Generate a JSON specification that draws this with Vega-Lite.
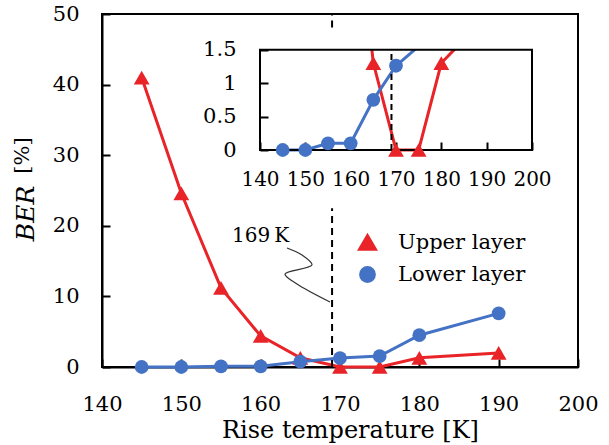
{
  "$schema": "https://vega.github.io/schema/vega-lite/v6.json",
  "width": 476,
  "height": 353,
  "autosize": {"type": "none"},
  "padding": {"left": 102, "top": 14, "right": 31, "bottom": 78},
  "background": "white",
  "config": {
    "view": {"stroke": "black", "strokeWidth": 2},
    "font": "DejaVu Serif",
    "axis": {
      "grid": false,
      "domainColor": "black",
      "domainWidth": 2,
      "tickColor": "black",
      "tickWidth": 2,
      "labelColor": "black",
      "labelFont": "DejaVu Serif",
      "labelFontSize": 21,
      "labelOverlap": false,
      "labelFlush": false,
      "titleFont": "DejaVu Serif",
      "titleColor": "black",
      "titleFontWeight": "normal"
    }
  },
  "datasets": {
    "ber": [
      {"series": "Upper layer", "temp": 145, "ber": 41.0},
      {"series": "Upper layer", "temp": 150, "ber": 24.6},
      {"series": "Upper layer", "temp": 155, "ber": 11.2},
      {"series": "Upper layer", "temp": 160, "ber": 4.4},
      {"series": "Upper layer", "temp": 165, "ber": 1.3},
      {"series": "Upper layer", "temp": 170, "ber": 0},
      {"series": "Upper layer", "temp": 175, "ber": 0},
      {"series": "Upper layer", "temp": 180, "ber": 1.3},
      {"series": "Upper layer", "temp": 190, "ber": 2.0},
      {"series": "Lower layer", "temp": 145, "ber": 0},
      {"series": "Lower layer", "temp": 150, "ber": 0},
      {"series": "Lower layer", "temp": 155, "ber": 0.1},
      {"series": "Lower layer", "temp": 160, "ber": 0.1},
      {"series": "Lower layer", "temp": 165, "ber": 0.75},
      {"series": "Lower layer", "temp": 170, "ber": 1.26},
      {"series": "Lower layer", "temp": 175, "ber": 1.55},
      {"series": "Lower layer", "temp": 180, "ber": 4.5},
      {"series": "Lower layer", "temp": 190, "ber": 7.6}
    ],
    "squiggle": [
      {"i": 1, "temp": 163.32, "ber": 16.86},
      {"i": 2, "temp": 165.21, "ber": 15.86},
      {"i": 3, "temp": 166.47, "ber": 14.45},
      {"i": 4, "temp": 163.07, "ber": 13.17},
      {"i": 5, "temp": 164.58, "ber": 11.76},
      {"i": 6, "temp": 168.74, "ber": 9.21}
    ],
    "dash": [
      {"temp": 169, "ber": 0, "ber2": 22.5},
      {"temp": 169, "ber": 48.1, "ber2": 50}
    ]
  },
  "layer": [
    {
      "data": {"name": "ber"},
      "layer": [
        {
          "mark": {"type": "line", "strokeWidth": 3, "clip": true},
          "encoding": {
            "x": {
              "field": "temp", "type": "quantitative",
              "scale": {"domain": [140, 200], "range": [158, 430]},
              "axis": {
                "orient": "bottom", "offset": -217, "domain": false,
                "values": [140, 150, 160, 170, 180, 190, 200],
                "tickSize": -8, "labelPadding": 27, "title": null, "labelFontSize": 20
              }
            },
            "y": {
              "field": "ber", "type": "quantitative",
              "scale": {"domain": [0, 1.5], "range": [136, 29]},
              "axis": {
                "orient": "left", "offset": -158, "domain": false,
                "values": [0, 0.5, 1, 1.5], "format": "~g",
                "tickSize": -8, "labelPadding": 32,
                "title": "[%]", "titleFontSize": 21,
                "titleAngle": 270, "titleAlign": "center", "titleBaseline": "middle",
                "titleX": -238, "titleY": 141
              }
            },
            "color": {
              "field": "series", "type": "nominal",
              "scale": {"domain": ["Upper layer", "Lower layer"], "range": ["#E92428", "#4472C4"]},
              "legend": null
            }
          }
        },
        {
          "data": {"values": [{}]},
          "mark": {"type": "rect", "fill": "white", "clip": true},
          "encoding": {
            "x": {"datum": 140, "type": "quantitative"},
            "x2": {"datum": 200},
            "y": {"datum": 1.5, "type": "quantitative"},
            "y2": {"datum": 4}
          }
        },
        {
          "data": {"values": [{}]},
          "mark": {"type": "rect", "fill": "white", "fillOpacity": 0, "stroke": "black", "strokeWidth": 2},
          "encoding": {
            "x": {"datum": 140, "type": "quantitative"},
            "x2": {"datum": 200},
            "y": {"datum": 0, "type": "quantitative"},
            "y2": {"datum": 1.5}
          }
        },
        {
          "data": {"values": [{}]},
          "mark": {"type": "rule", "color": "black", "strokeWidth": 2, "strokeDash": [6, 4]},
          "encoding": {
            "x": {"datum": 169, "type": "quantitative"},
            "y": {"datum": 0, "type": "quantitative"},
            "y2": {"datum": 1.5}
          }
        },
        {
          "transform": [{"filter": "datum.ber <= 1.5"}],
          "mark": {"type": "point", "filled": true, "opacity": 1},
          "encoding": {
            "x": {"field": "temp", "type": "quantitative"},
            "y": {"field": "ber", "type": "quantitative"},
            "color": {"field": "series", "type": "nominal", "legend": null},
            "shape": {
              "field": "series", "type": "nominal",
              "scale": {"domain": ["Upper layer", "Lower layer"], "range": ["triangle-up", "circle"]},
              "legend": null
            },
            "size": {
              "field": "series", "type": "nominal",
              "scale": {"domain": ["Upper layer", "Lower layer"], "range": [250, 190]},
              "legend": null
            }
          }
        }
      ]
    },
    {
      "data": {"name": "ber"},
      "layer": [
        {
          "mark": {"type": "line", "strokeWidth": 3},
          "encoding": {
            "x": {
              "field": "temp", "type": "quantitative",
              "scale": {"domain": [140, 200]},
              "axis": {
                "orient": "bottom",
                "values": [140, 150, 160, 170, 180, 190, 200],
                "tickSize": -8, "labelPadding": 34,
                "title": "Rise temperature [K]", "titleFontSize": 24,
                "titleX": 248, "titleY": 70, "titleBaseline": "alphabetic", "titleAlign": "center"
              }
            },
            "y": {
              "field": "ber", "type": "quantitative",
              "scale": {"domain": [0, 50]},
              "axis": {
                "orient": "left",
                "values": [0, 10, 20, 30, 40, 50],
                "tickSize": -8, "labelPadding": 31,
                "title": "BER", "titleFontStyle": "italic", "titleFontSize": 25,
                "titleAngle": 270, "titleAlign": "center", "titleBaseline": "middle",
                "titleX": -77, "titleY": 199
              }
            },
            "color": {
              "field": "series", "type": "nominal",
              "scale": {"domain": ["Upper layer", "Lower layer"], "range": ["#E92428", "#4472C4"]}
            }
          }
        },
        {
          "mark": {"type": "point", "filled": true, "opacity": 1},
          "encoding": {
            "x": {"field": "temp", "type": "quantitative"},
            "y": {"field": "ber", "type": "quantitative"},
            "color": {
              "field": "series", "type": "nominal",
              "legend": {
                "orient": "none", "legendX": 255, "legendY": 218,
                "title": null, "padding": 0,
                "labelFont": "DejaVu Serif", "labelFontSize": 21, "labelColor": "black",
                "symbolSize": 196, "labelOffset": 20, "rowPadding": 5,
                "symbolStrokeWidth": 3
              }
            },
            "shape": {
              "field": "series", "type": "nominal",
              "scale": {"domain": ["Upper layer", "Lower layer"], "range": ["triangle-up", "circle"]},
              "legend": null
            },
            "size": {
              "field": "series", "type": "nominal",
              "scale": {"domain": ["Upper layer", "Lower layer"], "range": [250, 190]},
              "legend": null
            }
          }
        },
        {
          "data": {"name": "dash"},
          "mark": {"type": "rule", "color": "black", "strokeWidth": 2, "strokeDash": [7, 5]},
          "encoding": {
            "x": {"field": "temp", "type": "quantitative"},
            "y": {"field": "ber", "type": "quantitative"},
            "y2": {"field": "ber2"}
          }
        },
        {
          "data": {"name": "squiggle"},
          "mark": {"type": "line", "color": "#333333", "strokeWidth": 1.2, "interpolate": "catmull-rom"},
          "encoding": {
            "x": {"field": "temp", "type": "quantitative"},
            "y": {"field": "ber", "type": "quantitative"},
            "order": {"field": "i", "type": "quantitative"}
          }
        },
        {
          "data": {"values": [{"label": "169\u2009K", "temp": 160, "ber": 18.6}]},
          "mark": {"type": "text", "font": "DejaVu Serif", "fontSize": 20, "color": "black", "align": "center", "baseline": "middle"},
          "encoding": {
            "x": {"field": "temp", "type": "quantitative"},
            "y": {"field": "ber", "type": "quantitative"},
            "text": {"field": "label"}
          }
        },
        {
          "data": {"values": [{}]},
          "mark": {"type": "rule", "color": "black", "strokeWidth": 2},
          "encoding": {"y": {"datum": 50, "type": "quantitative"}}
        }
      ]
    }
  ],
  "resolve": {
    "scale": {"x": "independent", "y": "independent", "color": "independent", "shape": "independent", "size": "independent"},
    "axis": {"x": "independent", "y": "independent"}
  }
}
